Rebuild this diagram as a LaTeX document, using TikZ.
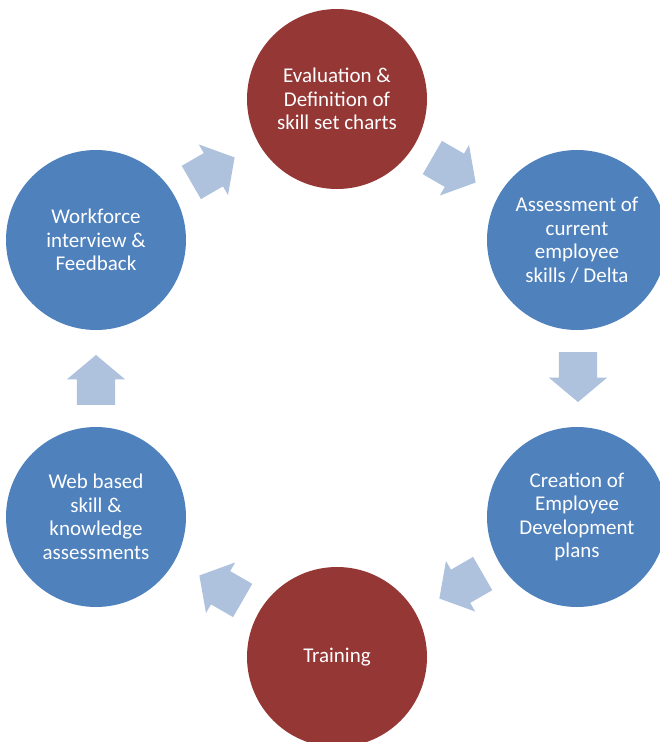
\documentclass[tikz,border=0pt]{standalone}
\usepackage{fontspec}
\setmainfont{Carlito}
\usetikzlibrary{shapes.arrows}
\definecolor{cred}{HTML}{953735}
\definecolor{cblue}{HTML}{4F81BD}
\definecolor{carrow}{HTML}{AEC1DD}
\begin{document}
\begin{tikzpicture}[x=1pt,y=-1pt,
  stage/.style={circle, minimum size=180pt, inner sep=0pt, text=white,
    align=center, font=\fontsize{21pt}{23.5pt}\selectfont},
  redstage/.style={stage, fill=cred},
  bluestage/.style={stage, fill=cblue},
  blockarrow/.style={single arrow, fill=carrow, draw=none, minimum height=50pt,
    inner xsep=0pt, inner ysep=19pt, single arrow head extend=10pt,
    single arrow tip angle=100}]
\useasboundingbox (0,0) rectangle (660,742);
\node[redstage] (eval) at (337,99) {Evaluation \&\\Definition of\\skill set charts};
\node[bluestage] (assess) at (577,240) {Assessment of\\current\\employee\\skills / Delta};
\node[bluestage] (create) at (577,517) {Creation of\\Employee\\Development\\plans};
\node[redstage] (train) at (337,657) {Training};
\node[bluestage] (web) at (96,517) {Web based\\skill \&\\knowledge\\assessments};
\node[bluestage] (work) at (96,240) {Workforce\\interview \&\\Feedback};
\node[blockarrow, rotate=-30] (a1) at (447,166) {};
\node[blockarrow, rotate=-90] (a2) at (578,369) {};
\node[blockarrow, rotate=-150] (a3) at (468,582) {};
\node[blockarrow, rotate=150] (a4) at (228,592) {};
\node[blockarrow, rotate=90] (a5) at (96,388) {};
\node[blockarrow, rotate=30] (a6) at (206,174) {};
\end{tikzpicture}
\end{document}
